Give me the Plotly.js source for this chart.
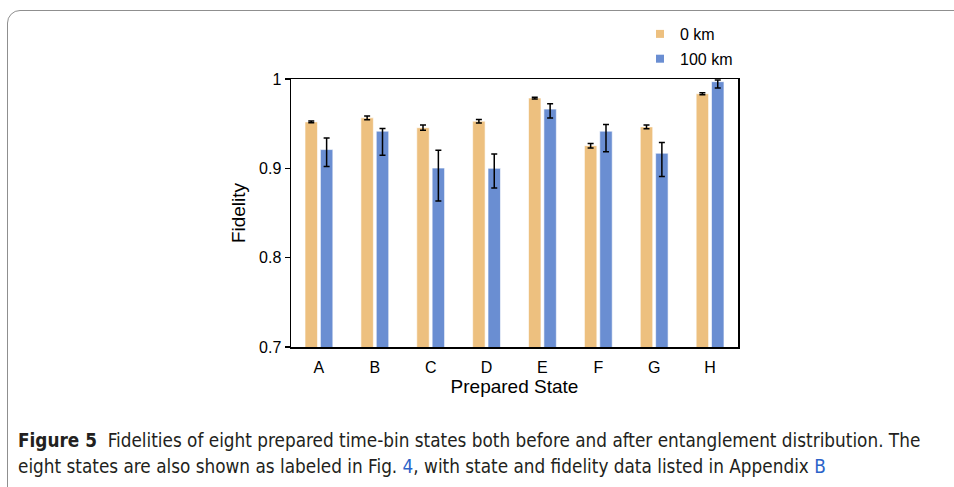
<!DOCTYPE html>
<html>
<head>
<meta charset="utf-8">
<script src="https://cdn.plot.ly/plotly-3.0.1.min.js"></script>
<style>
  html, body { margin: 0; padding: 0; width: 954px; height: 487px; overflow: hidden; background: #fff; }
  #frame { position: absolute; left: 7px; top: 10px; width: 1100px; height: 700px;
           border: 1px solid #8f8f8f; border-radius: 13px; box-sizing: border-box; }
  #chart { position: absolute; left: 0; top: 0; width: 954px; height: 487px; }
</style>
</head>
<body>
<div id="frame"></div>
<div id="chart"></div>
<script>
// ---- data ----
const states = ['A', 'B', 'C', 'D', 'E', 'F', 'G', 'H'];
const fidelity0km = [0.952, 0.9565, 0.9455, 0.9528, 0.9787, 0.9254, 0.9464, 0.9835];
const error0km = [0.001, 0.002, 0.003, 0.002, 0.001, 0.0025, 0.002, 0.001];
const fidelity100km = [0.921, 0.9416, 0.9003, 0.900, 0.9663, 0.9416, 0.9169, 0.997];
const error100kmPlus = [0.013, 0.003, 0.020, 0.016, 0.006, 0.0075, 0.012, 0.002];
const error100kmMinus = [0.019, 0.027, 0.037, 0.022, 0.010, 0.023, 0.026, 0.007];
const yTickVals = [0.7, 0.8, 0.9, 1.0];
const yTickText = ['0.7', '0.8', '0.9', '1'];
const seriesNames = ['0 km', '100 km'];

const ORANGE = '#EDC07F';
const BLUE = '#6A8ED2';
const FONT = 'Liberation Sans, Arial, sans-serif';
const CAP_FONT = 'DejaVu Sans Condensed, DejaVu Sans, sans-serif';

const errStyle = { color: '#000', thickness: 1.5, width: 3 };

const traces = [
  {
    type: 'bar', x: states, y: fidelity0km, name: seriesNames[0], showlegend: false,
    marker: { color: ORANGE, line: { color: 'rgba(255,255,255,0.6)', width: 1 } },
    error_y: Object.assign({ type: 'data', array: error0km, visible: true }, errStyle)
  },
  {
    type: 'bar', x: states, y: fidelity100km, name: seriesNames[1], showlegend: false,
    marker: { color: BLUE, line: { color: 'rgba(255,255,255,0.6)', width: 1 } },
    error_y: Object.assign({ type: 'data', symmetric: false, array: error100kmPlus,
                             arrayminus: error100kmMinus, visible: true }, errStyle)
  },
  // legend entries (square swatches)
  { type: 'scatter', mode: 'markers', x: [null], y: [null], name: seriesNames[0],
    legendgroup: 'g0', marker: { symbol: 'square', size: 8, color: ORANGE }, hoverinfo: 'skip' },
  { type: 'scatter', mode: 'markers', x: [null], y: [null], name: seriesNames[1],
    legendgroup: 'g1', marker: { symbol: 'square', size: 8, color: BLUE }, hoverinfo: 'skip' }
];

const W = 954, H = 487, L = 291, R = 738, T = 79, B = 347;
const px = x => (x - L) / (R - L);
const py = y => (B - y) / (B - T);

const layout = {
  width: W, height: H,
  margin: { l: L, r: W - R, t: T, b: H - B, pad: 0 },
  paper_bgcolor: 'rgba(0,0,0,0)', plot_bgcolor: 'rgba(0,0,0,0)',
  font: { family: FONT, color: '#000', size: 16 },
  barmode: 'group', bargap: 0.45, bargroupgap: 0.19,
  showlegend: true,
  legend: {
    x: px(640), xanchor: 'left', y: py(17), yanchor: 'top',
    font: { family: FONT, size: 16, color: '#000' },
    traceorder: 'grouped', tracegroupgap: 1, bgcolor: 'rgba(0,0,0,0)'
  },
  xaxis: {
    type: 'category', showline: true, mirror: true, linecolor: '#000', linewidth: 1.5,
    ticks: '', showgrid: false, zeroline: false, ticklabelstandoff: 5,
    tickfont: { family: FONT, size: 16, color: '#000' },
    title: { text: 'Prepared State', font: { family: FONT, size: 19, color: '#000' }, standoff: 2 },
    automargin: false, fixedrange: true
  },
  yaxis: {
    range: [0.7, 1.0], tickvals: yTickVals, ticktext: yTickText,
    showline: true, mirror: true, linecolor: '#000', linewidth: 1.5,
    ticks: 'outside', ticklen: 5, tickwidth: 1.5, tickcolor: '#000',
    showgrid: false, zeroline: false,
    tickfont: { family: FONT, size: 16, color: '#000' },
    title: { text: 'Fidelity', font: { family: FONT, size: 19, color: '#000' }, standoff: 8 },
    automargin: false, fixedrange: true
  },
  annotations: [
    { xref: 'paper', yref: 'paper', x: px(16), y: py(440), xanchor: 'left', yanchor: 'middle',
      showarrow: false, align: 'left',
      font: { family: CAP_FONT, size: 18.8, color: '#231f20' },
      text: '<b>Figure 5</b>\u00a0 Fidelities of eight prepared time-bin states both before and after entanglement distribution. The' },
    { xref: 'paper', yref: 'paper', x: px(16), y: py(466), xanchor: 'left', yanchor: 'middle',
      showarrow: false, align: 'left',
      font: { family: CAP_FONT, size: 18.8, color: '#231f20' },
      text: 'eight states are also shown as labeled in Fig. <span style="color:#2b63c9">4</span>, with state and fidelity data listed in Appendix <span style="color:#2b63c9">B</span>' }
  ]
};

Plotly.newPlot('chart', traces, layout, { displayModeBar: false, staticPlot: true });
</script>
</body>
</html>
